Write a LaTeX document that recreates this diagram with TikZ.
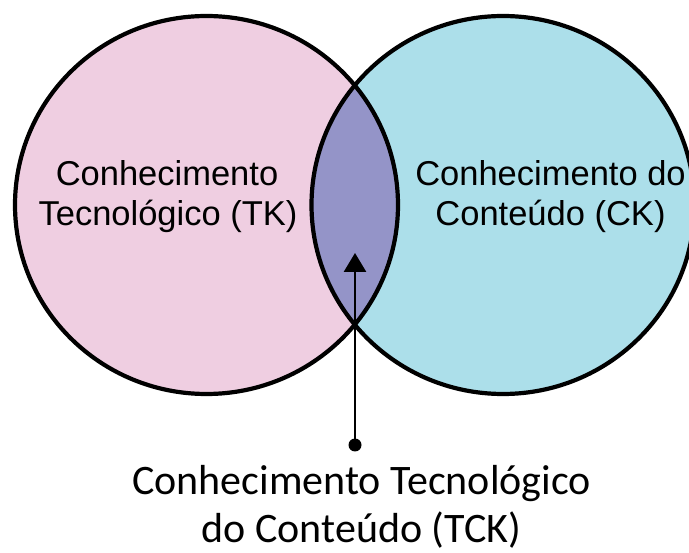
\documentclass[tikz,border=0pt]{standalone}
\usepackage{fontspec}
\setmainfont{Liberation Sans}
\newfontfamily\calib{Carlito}
\usetikzlibrary{shapes.geometric,arrows.meta}
\definecolor{tkpink}{RGB}{239,206,225}
\definecolor{ckblue}{RGB}{172,223,234}
\definecolor{tcklens}{RGB}{148,148,200}
\tikzset{
  venn/.style={ellipse, minimum width=383pt, minimum height=378pt, inner sep=0pt},
  vennline/.style={line width=4.2pt},
  lbl/.style={anchor=base, inner sep=0pt, font=\fontsize{34.5}{40}\selectfont},
  bottomlbl/.style={anchor=base, inner sep=0pt, font=\calib\fontsize{42}{49}\selectfont},
  pointer/.style={line width=2.8pt, -{Triangle[length=19pt,width=22pt]}}
}
\begin{document}
\begin{tikzpicture}[x=1pt,y=-1pt]
\useasboundingbox (0,0) rectangle (689,553);
\clip (0,0) rectangle (689,553);
\fill[white] (0,0) rectangle (689,553);
% ellipses (named nodes)
\node[venn, fill=tkpink] (tk) at (206.5,205) {};
\node[venn, fill=ckblue] (ck) at (503,205) {};
% intersection lens
\begin{scope}
  \clip (206.5,205) ellipse [x radius=191.5, y radius=189];
  \fill[tcklens] (503,205) ellipse [x radius=191.5, y radius=189];
\end{scope}
\draw[vennline] (206.5,205) ellipse [x radius=191.5, y radius=189];
\draw[vennline] (503,205) ellipse [x radius=191.5, y radius=189];
% labels
\node[lbl] (tk1) at (167,186) {Conhecimento};
\node[lbl] (tk2) at (168,226) {Tecnológico (TK)};
\node[lbl] (ck1) at (550.5,186) {Conhecimento do};
\node[lbl] (ck2) at (550.5,226) {Conteúdo (CK)};
\node[bottomlbl] (tck1) at (361.5,495) {Conhecimento Tecnológico};
\node[bottomlbl] (tck2) at (361.5,543) {do Conteúdo (TCK)};
% pointer
\coordinate (dot) at (355,445);
\coordinate (tip) at (355,253);
\fill (dot) circle (6.5pt);
\draw[pointer] (dot) -- (tip);
\end{tikzpicture}
\end{document}
